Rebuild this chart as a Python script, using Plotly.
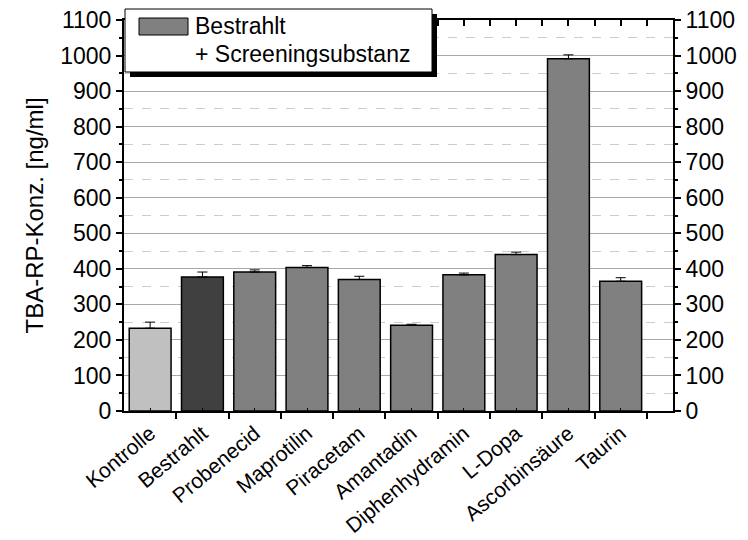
import plotly.graph_objects as go

# Data: TBA-reactive products concentration per group (mean, SD)
categories = ["Kontrolle", "Bestrahlt", "Probenecid", "Maprotilin", "Piracetam",
              "Amantadin", "Diphenhydramin", "L-Dopa", "Ascorbinsäure", "Taurin"]
values = [233, 377, 391, 404, 370, 241, 383, 440, 991, 365]
errors = [17, 14, 6, 5, 9, 3, 5, 7, 11, 10]
bar_colors = ["#c0c0c0", "#404040"] + ["#808080"] * 8

legend_line1 = "Bestrahlt"
legend_line2 = "+ Screeningsubstanz"
y_title = "TBA-RP-Konz. [ng/ml]"

FONT = "Liberation Sans, Arial, sans-serif"
FS_TICK = 23
FS_X = 21
FS_TITLE = 24
FS_LEG = 23

positions = list(range(1, len(categories) + 1))

# plot area geometry in pixels
W, H = 748, 540
L, R, T, B = 124, 75, 20, 129
PW, PH = W - L - R, H - T - B


def px(x):
    return (x - L) / PW


def py(y):
    return (H - B - y) / PH


fig = go.Figure()
fig.add_trace(go.Bar(
    x=positions, y=values, width=0.8,
    marker=dict(color=bar_colors, line=dict(color="black", width=1.5)),
    error_y=dict(type="data", array=errors, arrayminus=[0] * len(errors),
                 symmetric=False, color="black", thickness=1, width=5),
    showlegend=False,
))
# invisible trace so the mirrored axes are drawn
fig.add_trace(go.Scatter(x=[1], y=[0], xaxis="x2", yaxis="y2", mode="markers",
                         marker=dict(opacity=0), showlegend=False, hoverinfo="skip"))

fig.update_layout(
    width=W, height=H,
    margin=dict(l=L, r=R, t=T, b=B),
    paper_bgcolor="white", plot_bgcolor="white",
    font=dict(family=FONT, size=FS_TICK, color="black"),
    xaxis=dict(
        range=[0.5, 11.0], tickmode="array", tickvals=positions, ticktext=categories,
        tickangle=-40, ticks="inside", ticklen=3, tickcolor="black", tickwidth=1,
        minor=dict(tickmode="linear", tick0=0.5, dtick=1, ticks="outside",
                   ticklen=6, tickcolor="black", tickwidth=1.5),
        showline=True, linecolor="black", linewidth=2, showgrid=False, zeroline=False,
        tickfont=dict(size=FS_X), automargin=False,
    ),
    xaxis2=dict(
        range=[0.5, 11.0], overlaying="x", side="top", tickmode="linear", tick0=0.5,
        dtick=0.5, ticks="inside", ticklen=6, tickcolor="black", tickwidth=1.5,
        showticklabels=False, showline=True, linecolor="black", linewidth=2,
        showgrid=False, zeroline=False, automargin=False,
    ),
    yaxis=dict(
        range=[0, 1100], tickmode="linear", tick0=0, dtick=100, ticks="outside",
        ticklen=6, tickcolor="black", tickwidth=1.5,
        showline=True, linecolor="black", linewidth=2,
        showgrid=True, gridcolor="#a8a8a8", gridwidth=1, zeroline=False,
        minor=dict(tickmode="linear", tick0=50, dtick=100, ticks="outside", ticklen=3,
                   tickcolor="black", tickwidth=1.5, showgrid=True,
                   gridcolor="#cccccc", griddash="dash", gridwidth=1),
        title=dict(text=y_title, font=dict(size=FS_TITLE), standoff=10),
        tickfont=dict(size=FS_TICK), automargin=False,
    ),
    yaxis2=dict(
        range=[0, 1100], overlaying="y", side="right", tickmode="linear", tick0=0,
        dtick=100, ticks="outside", ticklen=6, tickcolor="black", tickwidth=1.5,
        showline=True, linecolor="black", linewidth=2, showgrid=False, zeroline=False,
        minor=dict(tickmode="linear", tick0=50, dtick=100, ticks="outside", ticklen=3,
                   tickcolor="black", tickwidth=1.5),
        tickfont=dict(size=FS_TICK), automargin=False,
    ),
)

# legend box with drop shadow
shapes = [
    dict(type="rect", xref="paper", yref="paper", x0=px(130), x1=px(437),
         y0=py(77), y1=py(14), fillcolor="black", line=dict(width=0), layer="above"),
    dict(type="rect", xref="paper", yref="paper", x0=px(125), x1=px(432),
         y0=py(72), y1=py(9), fillcolor="white", line=dict(color="black", width=1),
         layer="above"),
    dict(type="rect", xref="paper", yref="paper", x0=px(139), x1=px(188),
         y0=py(35), y1=py(18), fillcolor="#808080", line=dict(color="black", width=1),
         layer="above"),
]
fig.update_layout(shapes=shapes)
fig.add_annotation(xref="paper", yref="paper", x=px(193), y=py(26), text=legend_line1,
                   showarrow=False, xanchor="left", yanchor="middle",
                   font=dict(size=FS_LEG, family=FONT, color="black"))
fig.add_annotation(xref="paper", yref="paper", x=px(193), y=py(54), text=legend_line2,
                   showarrow=False, xanchor="left", yanchor="middle",
                   font=dict(size=FS_LEG, family=FONT, color="black"))

fig.write_html("out.html")
